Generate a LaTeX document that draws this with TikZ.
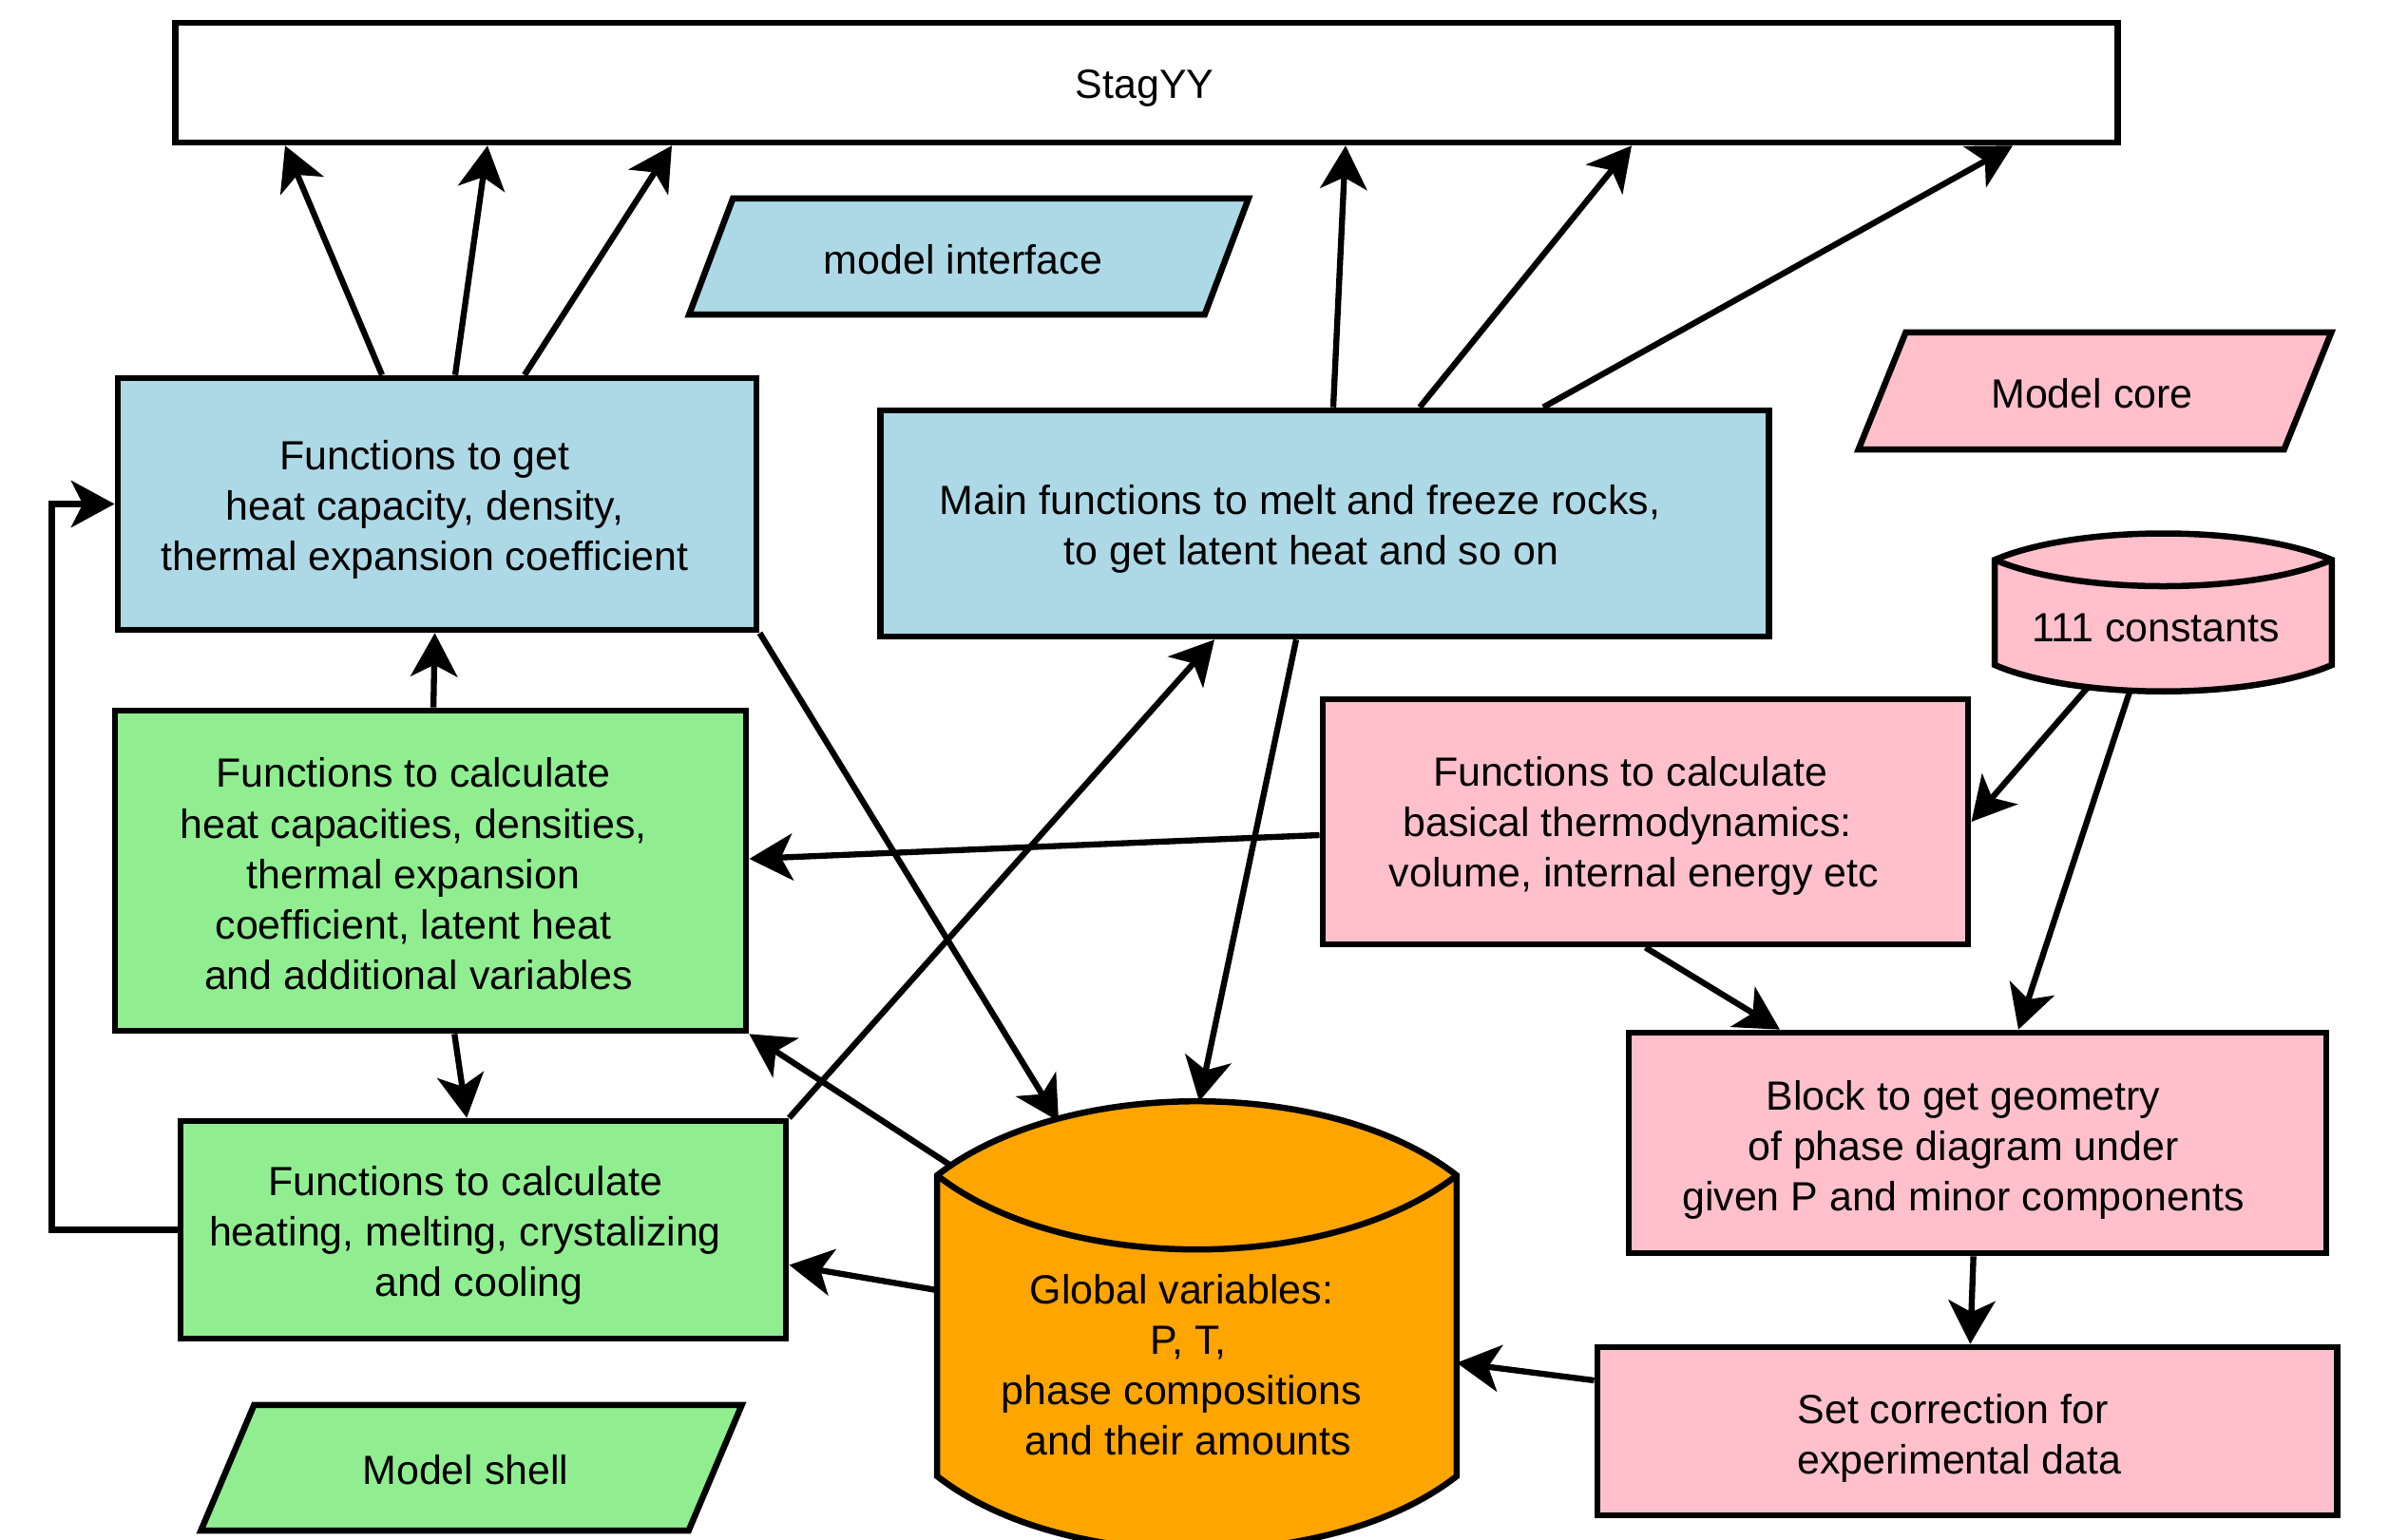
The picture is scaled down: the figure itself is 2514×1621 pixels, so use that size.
\documentclass[tikz,border=0pt]{standalone}
\usepackage{fontspec}
\setmainfont{Liberation Sans}
\usetikzlibrary{arrows.meta, calc, shapes.geometric, backgrounds}

\definecolor{ifaceblue}{HTML}{ADD8E6}
\definecolor{shellgreen}{HTML}{90EE90}
\definecolor{corepink}{HTML}{FFC0CB}
\definecolor{globorange}{HTML}{FFA500}

\tikzset{
	block/.style = {draw, line width=1.85pt, align=center, font=\fontsize{12.2}{15.1}\selectfont},
	legend/.style = {block, trapezium, trapezium left angle=69, trapezium right angle=111, trapezium stretches=true},
	drumbody/.style = {align=center, inner sep=0pt, font=\fontsize{12.2}{15.1}\selectfont},
	link/.style = {line width=1.8pt, -{Stealth[length=13pt, width=14pt, inset=3.5pt]}}
}

% text of a box, moved by dx and raised by dy without changing the box
\newcommand{\offtext}[3]{\raisebox{#2}[\height][\depth]{\hspace*{#1}\begin{tabular}{@{}c@{}}#3\end{tabular}\hspace*{-#1}}}

% outline of a drum drawn round a node: node, fill, control dx, control dy
\newcommand{\drumoutline}[4]{%
	\filldraw[fill=#2, line width=1.85pt]
		(#1.north west) .. controls +(#3,-#4) and +(-#3,-#4) .. (#1.north east)
		-- ($(#1.south east)+(0,-0.75*#4)$)
		.. controls +(-#3,#4) and +(#3,#4) .. ($(#1.south west)+(0,-0.75*#4)$) -- cycle;
	\draw[line width=1.85pt] (#1.north west) .. controls +(#3,#4) and +(-#3,#4) .. (#1.north east);
}

\begin{document}
\begin{tikzpicture}[x=0.01cm, y=-0.01cm]
	\useasboundingbox (0,0) rectangle (2514,1621);

	\node [block, minimum width=20.43cm, minimum height=1.26cm] (stag) at (1206.5,87) {\offtext{-0.02cm}{-0.06cm}{StagYY}};
	\node [legend, fill=ifaceblue, minimum width=5.89cm, minimum height=1.22cm] (iface) at (1019.5,270) {\offtext{-0.06cm}{-0.08cm}{model interface}};
	\node [legend, fill=corepink, minimum width=4.99cm, minimum height=1.23cm] (core) at (2204.5,411.5) {\offtext{-0.03cm}{-0.07cm}{Model core}};
	\node [legend, fill=shellgreen, minimum width=5.72cm, minimum height=1.32cm] (shell) at (496,1545) {\offtext{-0.06cm}{-0.07cm}{Model shell}};

	\node [block, fill=ifaceblue, minimum width=6.72cm, minimum height=2.65cm] (fget) at (460,530.5)
		{\offtext{-0.13cm}{-0.06cm}{Functions to get\\ heat capacity, density,\\ thermal expansion coefficient}};
	\node [block, fill=ifaceblue, minimum width=9.34cm, minimum height=2.38cm] (fmain) at (1394,551)
		{\offtext{-0.26cm}{-0.06cm}{Main functions to melt and freeze rocks,\\ \kern0.24cm to get latent heat and so on}};
	\node [block, fill=shellgreen, minimum width=6.64cm, minimum height=3.37cm] (calc) at (453,916.5)
		{\offtext{-0.18cm}{-0.08cm}{Functions to calculate\\ heat capacities, densities,\\ thermal expansion\\ coefficient, latent heat\\ \kern0.11cm and additional variables}};
	\node [block, fill=shellgreen, minimum width=6.37cm, minimum height=2.29cm] (heat) at (508.5,1294.5)
		{\offtext{-0.19cm}{-0.06cm}{Functions to calculate\\ heating, melting, crystalizing\\ \kern0.29cm and cooling}};
	\node [block, fill=corepink, minimum width=6.79cm, minimum height=2.58cm] (thermo) at (1731.5,865)
		{\offtext{-0.12cm}{-0.05cm}{Functions to calculate\kern0.08cm\\ basical thermodynamics:\kern0.14cm\\ volume, internal energy etc}};
	\node [block, fill=corepink, minimum width=7.34cm, minimum height=2.32cm] (geom) at (2081,1203)
		{\offtext{-0.15cm}{-0.075cm}{Block to get geometry\\ of phase diagram under\\ given P and minor components}};
	\node [block, fill=corepink, minimum width=7.78cm, minimum height=1.77cm] (corr) at (2070,1506.5)
		{\offtext{-0.08cm}{-0.08cm}{Set correction for\kern0.14cm\\ experimental data}};

	\node [drumbody, minimum width=3.53cm, minimum height=1.37cm] (consts) at (2276.5,658.5) {\offtext{-0.08cm}{-0.06cm}{111 constants}};
	\node [drumbody, minimum width=5.45cm, minimum height=3.93cm] (glob) at (1259.5,1434.5)
		{\offtext{-0.16cm}{-0.07cm}{Global variables:\\ \kern0.14cm P, T,\\ phase compositions\\ \kern0.14cm and their amounts}};

	\begin{scope}[on background layer]
		\drumoutline{consts}{corepink}{86}{37}
		\drumoutline{glob}{globorange}{133}{104}
	\end{scope}

	\begin{scope}[link]
		\draw ([shift={(-58,0)}]fget.north) -- ([shift={(-906.5,0)}]stag.south);
		\draw ([shift={(19,0)}]fget.north) -- ([shift={(-693.5,0)}]stag.south);
		\draw ([shift={(92,0)}]fget.north) -- ([shift={(-499.5,0)}]stag.south);
		\draw ([shift={(9,0)}]fmain.north) -- ([shift={(209.5,0)}]stag.south);
		\draw ([shift={(100,0)}]fmain.north) -- ([shift={(510.5,0)}]stag.south);
		\draw ([shift={(230,0)}]fmain.north) -- ([shift={(911.5,0)}]stag.south);

		\draw (heat.west) -- ++(-132,0) |- (fget.west);
		\draw (calc) -- (fget);
		\draw (calc) -- (heat);
		\draw (fget.south east) -- ([shift={(-145.5,-57)}]glob.north);
		\draw (heat.north east) -- ([shift={(-116,0)}]fmain.south);
		\draw ([shift={(-30,0)}]fmain.south) -- ([shift={(2.5,-78)}]glob.north);
		\draw ([shift={(0,14)}]thermo.west) -- ([shift={(0,-12.5)}]calc.east);
		\draw ([shift={(15,-10)}]glob.north west) -- (calc.south east);
		\draw ([shift={(0,-76.5)}]glob.west) -- ([shift={(0,37)}]heat.east);
		\draw ([shift={(0,-53.5)}]corr.west) -- (glob.east);

		\draw ([shift={(-78,-6)}]consts.south) -- (thermo.east);
		\draw ([shift={(-35,-1)}]consts.south) -- ([shift={(43,0)}]geom.north);
		\draw (thermo.south) -- ([shift={(-208,0)}]geom.north);
		\draw (geom) -- (corr);
	\end{scope}
\end{tikzpicture}
\end{document}
